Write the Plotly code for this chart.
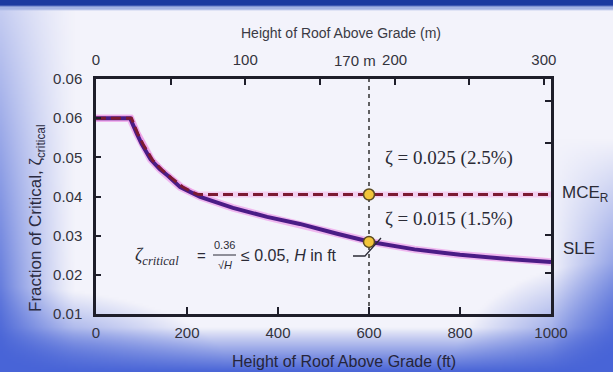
import base64, struct, zlib, math
import plotly.graph_objects as go

# ---------------- data ----------------
SLE_FT = [0, 75, 90, 100, 120, 140, 158, 185, 229, 301, 376, 448, 530, 604, 700, 800, 900, 1000]
SLE_ZETA = [0.0600, 0.0600, 0.0560, 0.0535, 0.0495, 0.0470, 0.0453, 0.0424, 0.0399, 0.0371,
            0.0348, 0.0330, 0.0305, 0.0284, 0.0265, 0.0251, 0.0241, 0.0233]
MCE_FT = [0, 78, 92, 105, 125, 145, 165, 190, 210, 225, 1000]
MCE_ZETA = [0.0600, 0.0600, 0.0560, 0.0530, 0.0492, 0.0468, 0.0448, 0.0425, 0.0412, 0.0405, 0.0405]
MARK_FT = [600, 600]
MARK_ZETA = [0.0405, 0.0284]
VLINE_FT = 600

FT_TICKS = [0, 200, 400, 600, 800, 1000]
M_TICKS = [0, 100, 200, 300]
M_MINOR = 50
Y_TICKS = [0.01, 0.02, 0.03, 0.04, 0.05, 0.06, 0.07]
Y_TICK_TEXT = ["0.01", "0.02", "0.03", "0.04", "0.05", "0.06", "0.06"]
RIGHT_TICKS = [0.0205, 0.0302, 0.0537, 0.0644]
FT_MAX = 1000
M_MAX = FT_MAX * 0.3048

# ---------------- geometry helpers (layout only) ----------------
W, H = 613, 372
L, R, T, B = 96, 62, 79, 58
PW, PH = W - L - R, H - T - B


def px(x):
    return (x - L) / PW


def py(y):
    return (H - B - y) / PH


# ---------------- slide background (gradient picture) ----------------
def make_png(w, h, fn):
    raw = bytearray()
    for j in range(h):
        raw.append(0)
        for i in range(w):
            raw.extend(fn(i, j))

    def chunk(t, d):
        return struct.pack('>I', len(d)) + t + d + struct.pack('>I', zlib.crc32(t + d) & 0xffffffff)

    png = (b'\x89PNG\r\n\x1a\n' + chunk(b'IHDR', struct.pack('>IIBBBBB', w, h, 8, 2, 0, 0, 0))
           + chunk(b'IDAT', zlib.compress(bytes(raw), 9)) + chunk(b'IEND', b''))
    return 'data:image/png;base64,' + base64.b64encode(png).decode()


BASE = (243, 243, 251)
BLUE = (72, 100, 215)
DARK = (28, 58, 160)


def bg_pixel(i, j):
    X, Y = i * 2 + 1, j * 2 + 1
    if Y < 6:
        return bytes(DARK)
    if Y < 10:
        return bytes((165, 180, 228))
    wl = max(0.0, 1 - X / 75) ** 1.3 * (0.25 + 0.75 * Y / H)
    wb = max(0.0, (Y - 328) / 44) ** 0.9
    wbl = max(0.0, 1 - math.hypot(X / 230, (H - Y) / 85))
    wr = max(0.0, (X - 552) / 61) * max(0.0, (Y - 140) / 232)
    wbr = max(0.0, 1 - math.hypot((W - X) / 160, (H - Y) / 110))
    w = 1 - (1 - wl) * (1 - wb) * (1 - wbl) * (1 - wr) * (1 - wbr)
    w = min(1.0, w)
    return bytes(int(BASE[k] * (1 - w) + BLUE[k] * w) for k in range(3))


BG = make_png((W + 1) // 2, (H + 1) // 2, bg_pixel)

# ---------------- figure ----------------
AX = '#1e1e2a'
TXT = '#2b2b36'
SANS = 'Liberation Sans, Arial, sans-serif'
SERIF = 'Liberation Serif, Times New Roman, serif'

fig = go.Figure()

# pink halos
fig.add_trace(go.Scatter(x=MCE_FT, y=MCE_ZETA, mode='lines', hoverinfo='skip', showlegend=False,
                         line=dict(color='rgba(240,140,220,0.35)', width=6)))
fig.add_trace(go.Scatter(x=SLE_FT, y=SLE_ZETA, mode='lines', hoverinfo='skip', showlegend=False,
                         line=dict(color='rgba(235,110,225,0.45)', width=7.5)))
# SLE solid
fig.add_trace(go.Scatter(x=SLE_FT, y=SLE_ZETA, mode='lines', name='SLE', showlegend=False,
                         line=dict(color='#4a1c86', width=4)))
# MCE dashed
fig.add_trace(go.Scatter(x=MCE_FT, y=MCE_ZETA, mode='lines', name='MCE', showlegend=False,
                         line=dict(color='#7c1a32', width=3, dash='10px,5px')))
# markers
fig.add_trace(go.Scatter(x=MARK_FT, y=MARK_ZETA, mode='markers', showlegend=False,
                         marker=dict(size=11, color='#f2c53a', line=dict(color='#5a4a22', width=1.5))))
# invisible helpers for secondary axes
fig.add_trace(go.Scatter(x=[0], y=[Y_TICKS[0]], xaxis='x2', yaxis='y', mode='markers',
                         marker=dict(opacity=0), hoverinfo='skip', showlegend=False))
fig.add_trace(go.Scatter(x=[0], y=[Y_TICKS[0]], xaxis='x', yaxis='y2', mode='markers',
                         marker=dict(opacity=0), hoverinfo='skip', showlegend=False))

fig.add_vline(x=VLINE_FT, line=dict(color='#222', width=1.4, dash='4px,4px'), layer='below')

tickfont = dict(family=SANS, size=15, color='#33333d')
fig.update_layout(
    width=W, height=H,
    margin=dict(l=L, r=R, t=T, b=B, pad=0),
    paper_bgcolor=f'rgb{BASE}',
    plot_bgcolor='rgba(0,0,0,0)',
    showlegend=False,
    xaxis=dict(range=[0, FT_MAX], tickvals=FT_TICKS, ticks='inside', ticklen=7, tickwidth=2,
               tickcolor=AX, showline=True, linewidth=2.5, linecolor=AX, showgrid=False,
               zeroline=False, tickfont=tickfont, ticklabelstandoff=3),
    xaxis2=dict(range=[0, M_MAX], overlaying='x', side='top', tickvals=M_TICKS, ticks='inside',
                ticklen=6, tickwidth=2, tickcolor=AX, showline=True, linewidth=2.5, linecolor=AX,
                showgrid=False, zeroline=False, tickfont=tickfont, ticklabelstandoff=5,
                minor=dict(dtick=M_MINOR, ticks='inside', ticklen=6, tickwidth=2, tickcolor=AX,
                           showgrid=False)),
    yaxis=dict(range=[Y_TICKS[0], Y_TICKS[-1]], tickvals=Y_TICKS, ticktext=Y_TICK_TEXT,
               ticks='inside', ticklen=5, tickwidth=2, tickcolor=AX, showline=True, linewidth=2.5,
               linecolor=AX, showgrid=False, zeroline=False, tickfont=tickfont,
               ticklabelstandoff=8),
    yaxis2=dict(range=[Y_TICKS[0], Y_TICKS[-1]], overlaying='y', side='right',
                tickvals=RIGHT_TICKS, showticklabels=False, ticks='inside', ticklen=6,
                tickwidth=2, tickcolor=AX, showline=True, linewidth=2.5, linecolor=AX,
                showgrid=False, zeroline=False),
    images=[dict(source=BG, xref='paper', yref='paper', x=px(0), y=py(0), sizex=W / PW,
                 sizey=H / PH, xanchor='left', yanchor='top', sizing='stretch', layer='below')],
)


def ann(text, x, y, size, family=SANS, color=TXT, xanchor='center', yanchor='middle', **kw):
    fig.add_annotation(text=text, xref='paper', yref='paper', x=px(x), y=py(y), showarrow=False,
                       font=dict(family=family, size=size, color=color), xanchor=xanchor,
                       yanchor=yanchor, **kw)


# axis titles
ann('Height of Roof Above Grade (m)', 341, 33, 14, color='#3a3a44')
ann('Height of Roof Above Grade (ft)', 344, 361, 16, color='#25253a')
ann('Fraction of Critical, ζ<sub>critical</sub>', 37, 218, 17, color='#2a2a40', textangle=-90)
ann('170 m', 355, 60, 15, color='#33333d')

# zeta labels
ann('ζ = 0.025 (2.5%)', 383, 158, 19, family=SERIF, xanchor='left')
ann('ζ = 0.015 (1.5%)', 383, 219, 19, family=SERIF, xanchor='left')

# right-side labels
ann('MCE<sub>R</sub>', 560, 194, 17, xanchor='left')
ann('SLE', 561, 248, 17, xanchor='left')

# formula
ann('<i>ζ<sub>critical</sub></i>', 133, 256, 18, family=SERIF, xanchor='left')
ann('=', 201, 255, 15)
ann('0.36', 224, 245, 11)
ann('√<i>H</i>', 225, 265, 11)
ann('≤ 0.05, <i>H</i> in ft', 239, 255, 16, xanchor='left')
fig.add_shape(type='line', xref='paper', yref='paper', x0=px(213), x1=px(236), y0=py(255),
              y1=py(255), line=dict(color=TXT, width=1))
fig.add_shape(type='path', xref='paper', yref='paper',
              path=f'M {px(353)},{py(256)} L {px(365)},{py(256)} L {px(381)},{py(238)}',
              line=dict(color=TXT, width=1.3))

fig.write_html('out.html', config={'displayModeBar': False},
               post_script="document.body.style.margin='0';document.body.style.overflow='hidden';")
